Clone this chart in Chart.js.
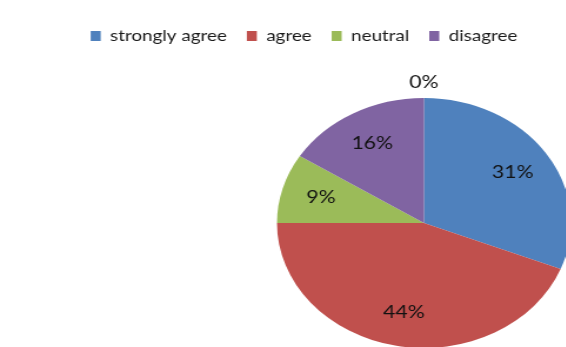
<!DOCTYPE html>
<html>
<head>
<meta charset="utf-8">
<script src="https://cdn.jsdelivr.net/npm/chart.js@4"></script>
<style>
  html, body { margin: 0; padding: 0; background: #fff; overflow: hidden; }
  #wrap {
    position: absolute; left: 0; top: 0;
    width: 481px; height: 347px;
    transform: scaleX(1.176); transform-origin: 0 0;
  }
</style>
</head>
<body>
<div id="wrap"><canvas id="myChart"></canvas></div>
<script>
const categories = ['strongly agree', 'agree', 'neutral', 'disagree', 'strongly disagree'];
const percentages = [31, 44, 9, 16, 0];
const sliceColors = ['#4F81BD', '#C0504D', '#9BBB59', '#8064A2', '#F79646'];

// pie centre and radius inside the (unstretched) canvas
const pieCenter = { x: 360.5, y: 223 };
const pieRadius = 125;

const pinPieArea = {
  id: 'pinPieArea',
  afterLayout(chart) {
    chart.chartArea = {
      left: pieCenter.x - pieRadius,
      top: pieCenter.y - pieRadius,
      right: pieCenter.x + pieRadius,
      bottom: pieCenter.y + pieRadius,
      width: pieRadius * 2,
      height: pieRadius * 2,
    };
  },
};

// percentage labels, inside the slice or just outside for empty slices
const sliceLabels = {
  id: 'sliceLabels',
  afterDatasetsDraw(chart) {
    const ctx = chart.ctx;
    const meta = chart.getDatasetMeta(0);
    ctx.save();
    ctx.font = '18px Lato';
    ctx.fillStyle = '#111';
    ctx.textAlign = 'center';
    ctx.textBaseline = 'middle';
    meta.data.forEach((arc, i) => {
      const p = arc.getProps(['x', 'y', 'startAngle', 'endAngle', 'outerRadius'], true);
      const mid = (p.startAngle + p.endAngle) / 2;
      const value = percentages[i];
      const dist = value === 0 ? p.outerRadius + 16 : p.outerRadius * 0.73;
      ctx.fillText(value + '%', p.x + Math.cos(mid) * dist, p.y + Math.sin(mid) * dist);
    });
    ctx.restore();
  },
};

const ctx = document.getElementById('myChart').getContext('2d');
const myChart = new Chart(ctx, {
  type: 'pie',
  data: {
    labels: categories,
    datasets: [
      {
        data: percentages,
        backgroundColor: sliceColors,
        borderWidth: 0,
      },
    ],
  },
  options: {
    responsive: true,
    maintainAspectRatio: false,
    animation: false,
    layout: {
      padding: { left: 36, top: 11 },
    },
    plugins: {
      legend: {
        position: 'top',
        labels: {
          filter: (item) => percentages[item.index] > 0,
          boxWidth: 8.5,
          boxHeight: 10,
          padding: 17,
          color: '#1a1a1a',
          font: { family: 'Lato', size: 16 },
        },
      },
      tooltip: { enabled: false },
    },
  },
  plugins: [pinPieArea, sliceLabels],
});
</script>
</body>
</html>
